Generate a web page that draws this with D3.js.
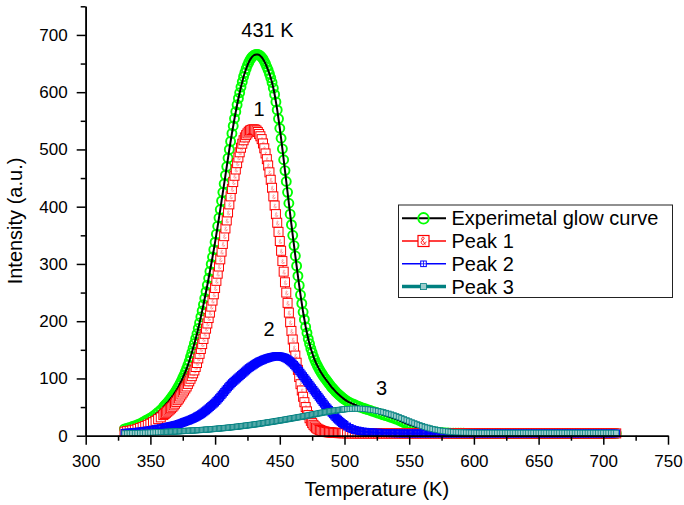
<!DOCTYPE html>
<html>
<head>
<meta charset="utf-8">
<script src="https://cdn.jsdelivr.net/npm/d3@7"></script>
<style>
  body { margin: 0; background: #fff; }
  svg { display: block; }
  text { font-family: "Liberation Sans", Arial, Helvetica, sans-serif; fill: #000; }
</style>
</head>
<body>
<svg id="chart" width="684" height="505"></svg>
<script>
// Thermoluminescence glow curve and its deconvolved peaks (temperature in K, intensity in a.u.)
// Readings are taken every 1 K across the main peak and every 2 K on the tails.
const temperature = [
  330, 332, 334, 336, 338, 340, 342, 344, 346, 348,
  350, 352, 354, 356, 358,
  360, 361, 362, 363, 364, 365, 366, 367, 368, 369,
  370, 371, 372, 373, 374, 375, 376, 377, 378, 379,
  380, 381, 382, 383, 384, 385, 386, 387, 388, 389,
  390, 391, 392, 393, 394, 395, 396, 397, 398, 399,
  400, 401, 402, 403, 404, 405, 406, 407, 408, 409,
  410, 411, 412, 413, 414, 415, 416, 417, 418, 419,
  420, 421, 422, 423, 424, 425, 426, 427, 428, 429,
  430, 431, 432, 433, 434, 435, 436, 437, 438, 439,
  440, 441, 442, 443, 444, 445, 446, 447, 448, 449,
  450, 451, 452, 453, 454, 455, 456, 457, 458, 459,
  460, 461, 462, 463, 464, 465, 466, 467, 468, 469,
  470, 471, 472, 473, 474, 475, 476, 477, 478, 479,
  480, 481, 482, 483, 484, 485, 486, 487, 488, 489,
  490, 491, 492, 493, 494, 495, 496, 497, 498, 499,
  500,
  502, 504, 506, 508, 510, 512, 514, 516, 518, 520,
  522, 524, 526, 528, 530, 532, 534, 536, 538, 540,
  542, 544, 546, 548, 550, 552, 554, 556, 558, 560,
  562, 564, 566, 568, 570, 572, 574, 576, 578, 580,
  582, 584, 586, 588, 590, 592, 594, 596, 598, 600,
  602, 604, 606, 608, 610, 612, 614, 616, 618, 620,
  622, 624, 626, 628, 630, 632, 634, 636, 638, 640,
  642, 644, 646, 648, 650, 652, 654, 656, 658, 660,
  662, 664, 666, 668, 670, 672, 674, 676, 678, 680,
  682, 684, 686, 688, 690, 692, 694, 696, 698, 700,
  702, 704, 706, 708, 710
];

const experimental = [
  12, 13, 14.5, 16, 17.5, 19, 21, 23.5, 26, 28.5,
  31, 34, 37.5, 41, 45,
  50, 52.5, 55, 57.5, 60, 63, 66, 69, 72, 75.5,
  79, 83, 87, 91.5, 96, 101, 106, 111.5, 117, 123.5,
  130, 137.5, 145, 153, 161, 169.5, 178, 187.5, 197, 207.5,
  218, 229, 240, 251.5, 263, 275, 287, 299.5, 312, 325,
  338, 352, 366, 380.5, 395, 410, 425, 440, 455, 470,
  485, 500, 514, 528, 541, 554, 566, 578, 589, 599,
  609, 618, 627, 634, 641, 647, 652, 656.5, 660, 662.5,
  664.5, 665.5, 666, 665.8, 665, 663.3, 661, 658, 654, 649.5,
  644, 638.5, 632, 625, 617, 607, 596, 583, 569, 553.5,
  537, 519.5, 501, 482, 463, 444, 425, 406, 387, 368.5,
  350, 332, 314, 296.5, 279, 262.5, 246, 231, 216, 203,
  190, 179.5, 169, 160.5, 152, 145, 138, 132.5, 127, 122.5,
  118, 114, 110, 106.5, 103, 100, 97, 94, 91, 88,
  85, 82.5, 80, 77.5, 75, 73, 71, 69, 67, 65.2,
  63.5,
  60.5, 58, 56, 54, 52, 50, 48.5, 47, 45.5, 44,
  42.5, 41, 39.5, 38, 36.5, 35, 33.5, 32, 30.5, 29,
  27, 25, 23, 21, 19.5, 18, 16.5, 15, 13.5, 12,
  10.5, 9.3, 8.3, 7.4, 6.7, 6.1, 5.6, 5.2, 4.9, 4.7,
  4.5, 4.5, 4.4, 4.4, 4.3, 4.2, 4.1, 4, 4, 4,
  4, 4, 4, 4, 4, 4, 4, 4, 4, 4,
  4, 4, 4, 4, 4, 4, 4, 4, 4, 4,
  4, 4, 4, 4, 4, 4, 4, 4, 4, 4,
  4, 4, 4, 4, 4, 4, 4, 4, 4, 4,
  4, 4, 4, 4, 4, 4, 4, 4, 4, 4,
  4, 4, 4, 4, 4
];

const peak1 = [
  7, 8, 8.5, 9.5, 10.5, 12, 13.5, 15, 17, 19,
  21, 23.5, 26, 29, 32,
  36, 38, 40, 42, 44, 46, 48, 50.5, 53, 56,
  59, 62, 65, 68.5, 72, 75.5, 79, 82.5, 86, 90.5,
  95, 99.5, 104, 109, 114, 120, 127, 135, 143, 151.5,
  160, 169, 178, 187, 196, 205.5, 215, 225.5, 236, 247,
  258, 270.5, 283, 295.5, 308, 321.5, 335, 348.5, 362, 376,
  390, 404, 418, 431, 443, 454, 465, 476, 486, 495,
  503, 510, 516, 521, 525, 528, 531, 533, 534, 535,
  535, 534.5, 533, 530.5, 527, 523, 518, 510.5, 502, 493,
  483, 472, 460, 447, 433, 418, 402, 387, 372, 356,
  340, 323, 305, 286.5, 268, 250, 232, 215, 198, 183,
  168, 154, 140, 127.5, 115, 102.5, 90, 79, 68, 58.5,
  50, 42.5, 36, 30.5, 26, 22, 19, 16.3, 14, 12.3,
  11, 10, 9, 8.2, 7.5, 7, 6.5, 6.2, 6, 5.7,
  5.5, 5.2, 5, 5, 5, 4.7, 4.5, 4.5, 4.5, 4.4,
  4.3,
  4.2, 4.1, 4, 4, 4, 4, 4, 4, 4, 4,
  4, 4, 4, 4, 4, 4, 4, 4, 4, 4,
  4, 4, 4, 4, 4, 4, 4, 4, 4, 4,
  4, 4, 4, 4, 4, 4, 4, 4, 4, 4,
  4, 4, 4, 4, 4, 4, 4, 4, 4, 4,
  4, 4, 4, 4, 4, 4, 4, 4, 4, 4,
  4, 4, 4, 4, 4, 4, 4, 4, 4, 4,
  4, 4, 4, 4, 4, 4, 4, 4, 4, 4,
  4, 4, 4, 4, 4, 4, 4, 4, 4, 4,
  4, 4, 4, 4, 4, 4, 4, 4, 4, 4,
  4, 4, 4, 4, 4
];

const peak2 = [
  5, 5.3, 5.7, 6.1, 6.5, 7, 7.5, 8.1, 8.7, 9.3,
  10, 10.8, 11.6, 12.4, 13.2,
  14, 14.5, 15, 15.5, 16, 16.5, 17, 17.5, 18, 18.5,
  19, 19.7, 20.5, 21.2, 22, 22.9, 23.8, 24.6, 25.5, 26.2,
  27, 28, 29, 30, 31, 32.2, 33.5, 34.7, 36, 37.5,
  39, 40.7, 42.5, 44.2, 46, 48, 50, 52, 54, 56,
  58, 60.5, 63, 65.5, 68, 70.8, 73.5, 76.3, 79, 81.8,
  84.5, 87, 89.5, 91.8, 94, 96, 98, 100, 102, 104,
  106, 108, 110, 112, 114, 116, 118, 119.5, 121, 122.5,
  124, 125.5, 127, 128.3, 129.5, 130.5, 131.5, 132.5, 133.5, 134.3,
  135, 135.8, 136.5, 137, 137.5, 138, 138.5, 138.8, 139, 138.8,
  138.5, 138, 137.5, 136.8, 136, 134.8, 133.5, 131.8, 130, 128,
  126, 123.5, 121, 118.5, 116, 113, 110, 107, 104, 101,
  98, 95, 92, 89, 86, 83, 80, 77, 74, 71,
  68, 65, 62, 59, 56, 53, 50, 47.5, 45, 42.5,
  40, 37.5, 35, 32.5, 30, 28, 26, 24, 22, 20.5,
  19,
  16, 13.5, 11.5, 10, 9, 8, 7.3, 6.8, 6.4, 6,
  5.7, 5.4, 5.2, 5, 4.8, 4.6, 4.5, 4.4, 4.3, 4.2,
  4.1, 4, 4, 4, 4, 4, 4, 4, 4, 4,
  4, 4, 4, 4, 4, 4, 4, 4, 4, 4,
  4, 4, 4, 4, 4, 4, 4, 4, 4, 4,
  4, 4, 4, 4, 4, 4, 4, 4, 4, 4,
  4, 4, 4, 4, 4, 4, 4, 4, 4, 4,
  4, 4, 4, 4, 4, 4, 4, 4, 4, 4,
  4, 4, 4, 4, 4, 4, 4, 4, 4, 4,
  4, 4, 4, 4, 4, 4, 4, 4, 4, 4,
  4, 4, 4, 4, 4
];

const peak3 = [
  4, 4.1, 4.3, 4.4, 4.6, 4.7, 4.9, 5, 5.2, 5.3,
  5.5, 5.7, 5.9, 6.1, 6.3,
  6.5, 6.6, 6.7, 6.8, 6.9, 7, 7.1, 7.2, 7.3, 7.4,
  7.5, 7.6, 7.7, 7.85, 8, 8.1, 8.2, 8.35, 8.5, 8.6,
  8.7, 8.85, 9, 9.15, 9.3, 9.45, 9.6, 9.7, 9.8, 9.95,
  10.1, 10.25, 10.4, 10.6, 10.8, 10.95, 11.1, 11.3, 11.5, 11.7,
  11.9, 12.1, 12.3, 12.5, 12.7, 12.9, 13.1, 13.35, 13.6, 13.8,
  14, 14.25, 14.5, 14.75, 15, 15.25, 15.5, 15.75, 16, 16.3,
  16.6, 16.85, 17.1, 17.4, 17.7, 18, 18.3, 18.6, 18.9, 19.2,
  19.5, 19.8, 20.1, 20.45, 20.8, 21.15, 21.5, 21.85, 22.2, 22.55,
  22.9, 23.25, 23.6, 23.95, 24.3, 24.65, 25, 25.4, 25.8, 26.15,
  26.5, 26.9, 27.3, 27.7, 28.1, 28.5, 28.9, 29.3, 29.7, 30.1,
  30.5, 30.9, 31.3, 31.7, 32.1, 32.5, 32.9, 33.3, 33.7, 34.1,
  34.5, 34.95, 35.4, 35.85, 36.3, 36.75, 37.2, 37.65, 38.1, 38.55,
  39, 39.45, 39.9, 40.3, 40.7, 41.1, 41.5, 41.9, 42.3, 42.65,
  43, 43.35, 43.7, 44.05, 44.4, 44.7, 45, 45.3, 45.6, 45.85,
  46.1,
  46.5, 46.8, 47.1, 47.3, 47.3, 47.2, 47, 46.6, 46.1, 45.5,
  44.8, 44, 43.1, 42.1, 41, 39.8, 38.5, 37.1, 35.6, 34,
  32.3, 30.5, 28.7, 26.9, 25.1, 23.3, 21.6, 19.9, 18.3, 16.8,
  15.4, 14.1, 12.9, 11.8, 10.8, 9.9, 9.1, 8.4, 7.8, 7.3,
  6.9, 6.5, 6.2, 6, 5.8, 5.6, 5.5, 5.4, 5.3, 5.2,
  5.1, 5, 5, 5, 5, 5, 5, 5, 5, 5,
  5, 5, 5, 5, 5, 5, 5, 5, 5, 5,
  5, 5, 5, 5, 5, 5, 5, 5, 5, 5,
  5, 5, 5, 5, 5, 5, 5, 5, 5, 5,
  5, 5, 5, 5, 5, 5, 5, 5, 5, 5,
  5, 5, 5, 5, 5
];

const xTicks = [300, 350, 400, 450, 500, 550, 600, 650, 700, 750];
const xMinorTicks = [325, 375, 425, 475, 525, 575, 625, 675, 725];
const yTicks = [0, 100, 200, 300, 400, 500, 600, 700];
const yMinorTicks = [50, 150, 250, 350, 450, 550, 650, 750];

const legendNames = ["Experimetal glow curve", "Peak 1", "Peak 2", "Peak 3"];

// Peak annotations placed in data coordinates (temperature, intensity)
const annotations = [
  { text: "431 K", t: 440.5, v: 697 },
  { text: "1", t: 434, v: 558 },
  { text: "2", t: 441.7, v: 175 },
  { text: "3", t: 528.7, v: 71 }
];

const colors = {
  exp: "#00ff00",
  expLine: "#000000",
  p1: "#ff0000",
  p2: "#0000ff",
  p3: "#008080",
  p3Fill: "#9ccccc"
};

const svg = d3.select("#chart");
const x = d3.scaleLinear().domain([300, 750]).range([85.7, 668]);
const y = d3.scaleLinear().domain([0, 750]).range([435.7, 6.3]);

const n = Math.min(temperature.length, experimental.length, peak1.length, peak2.length, peak3.length);
const rows = (vals) => temperature.slice(0, n).map((t, i) => ({ t, v: vals[i] }));
const line = d3.line().x(d => x(d.t)).y(d => y(d.v)).curve(d3.curveMonotoneX);

const plot = svg.append("g");

// Small ampersand-like glyph that sits inside the Peak 1 squares
const ampPath = "M1.3,2.3 L-0.9,-0.7 C-1.7,-1.9 -0.7,-3 0.2,-2.4 C0.9,-1.8 0.1,-1 -0.9,-0.3 C-2.1,0.5 -1.5,2.5 0,2.2 C0.8,2.1 1.4,1.2 1.8,0.4";

// Experimental glow curve: green open circles and black line
const expData = rows(experimental);
plot.append("g").selectAll("circle").data(expData).join("circle")
  .attr("cx", d => x(d.t)).attr("cy", d => y(d.v)).attr("r", 4.5)
  .attr("fill", "none").attr("stroke", colors.exp).attr("stroke-width", 1.9);
plot.append("path").datum(expData).attr("d", line)
  .attr("fill", "none").attr("stroke", colors.expLine).attr("stroke-width", 2);

// Peak 1: red squares
const p1Data = rows(peak1);
plot.append("path").datum(p1Data).attr("d", line)
  .attr("fill", "none").attr("stroke", colors.p1).attr("stroke-width", 1);
const p1g = plot.append("g").selectAll("g").data(p1Data).join("g")
  .attr("transform", d => `translate(${x(d.t)},${y(d.v)})`);
p1g.append("rect").attr("x", -4.5).attr("y", -4.5).attr("width", 9).attr("height", 9)
  .attr("fill", "#fff").attr("stroke", colors.p1).attr("stroke-width", 1);
p1g.append("path").attr("d", ampPath).attr("transform", "translate(0.6,0.6) scale(0.85)")
  .attr("fill", "none").attr("stroke", "#ff7070").attr("stroke-width", 0.7);

// Peak 2: blue squares with a cross
const p2Data = rows(peak2);
plot.append("path").datum(p2Data).attr("d", line)
  .attr("fill", "none").attr("stroke", colors.p2).attr("stroke-width", 1.5);
const p2g = plot.append("g").selectAll("g").data(p2Data).join("g")
  .attr("transform", d => `translate(${x(d.t)},${y(d.v)})`);
p2g.append("rect").attr("x", -3.3).attr("y", -3.3).attr("width", 6.6).attr("height", 6.6)
  .attr("fill", "none").attr("stroke", colors.p2).attr("stroke-width", 1.3);
p2g.append("path").attr("d", "M-3.3,0 H3.3 M0,-3.3 V3.3")
  .attr("stroke", colors.p2).attr("stroke-width", 1);

// Peak 3: thick teal line with light squares
const p3Data = rows(peak3);
plot.append("path").datum(p3Data).attr("d", line)
  .attr("fill", "none").attr("stroke", colors.p3).attr("stroke-width", 5);
plot.append("g").selectAll("rect").data(p3Data).join("rect")
  .attr("x", d => x(d.t) - 2.6).attr("y", d => y(d.v) - 2.6)
  .attr("width", 5.2).attr("height", 5.2)
  .attr("fill", colors.p3Fill).attr("stroke", colors.p3).attr("stroke-width", 0.8);

// Axes
const axisStyle = g => {
  g.select(".domain").attr("stroke", "#000").attr("stroke-width", 1.6);
  g.selectAll(".tick line").attr("stroke", "#000").attr("stroke-width", 1.5);
  g.selectAll(".tick text").attr("font-size", 17).attr("fill", "#000")
    .attr("font-family", "'Liberation Sans', Arial, Helvetica, sans-serif");
};

svg.append("g").attr("transform", `translate(0,${y(0)})`)
  .call(d3.axisBottom(x).tickValues(xMinorTicks).tickSize(5).tickSizeOuter(0).tickFormat(""))
  .call(axisStyle);
svg.append("g").attr("transform", `translate(0,${y(0)})`)
  .call(d3.axisBottom(x).tickValues(xTicks).tickSize(9).tickSizeOuter(0).tickPadding(10).tickFormat(d3.format("d")))
  .call(axisStyle);

svg.append("g").attr("transform", `translate(${x(300)},0)`)
  .call(d3.axisLeft(y).tickValues(yMinorTicks).tickSize(5).tickSizeOuter(0).tickFormat(""))
  .call(axisStyle);
svg.append("g").attr("transform", `translate(${x(300)},0)`)
  .call(d3.axisLeft(y).tickValues(yTicks).tickSize(9).tickSizeOuter(0).tickPadding(9).tickFormat(d3.format("d")))
  .call(axisStyle);

// Axis titles
svg.append("text").attr("x", (x(300) + x(750)) / 2).attr("y", 496)
  .attr("text-anchor", "middle").attr("font-size", 20).text("Temperature (K)");
svg.append("text").attr("transform", `translate(22,${(y(0) + y(750)) / 2}) rotate(-90)`)
  .attr("text-anchor", "middle").attr("font-size", 20).text("Intensity (a.u.)");

// Peak annotations
svg.append("g").selectAll("text").data(annotations).join("text")
  .attr("x", d => x(d.t)).attr("y", d => y(d.v))
  .attr("text-anchor", "middle").attr("font-size", 20).text(d => d.text);

// Legend
const legend = svg.append("g").attr("transform", "translate(398.5,205)");
legend.append("rect").attr("width", 274).attr("height", 92.5)
  .attr("fill", "#fff").attr("stroke", "#222").attr("stroke-width", 1);
const rowY = [13.3, 36, 58.8, 81.6];
const sx0 = 3.5, sx1 = 47.5, sxm = 25;

legendNames.forEach((name, i) => {
  const g = legend.append("g").attr("transform", `translate(0,${rowY[i]})`);
  if (i === 0) {
    g.append("line").attr("x1", sx0).attr("x2", sx1).attr("stroke", colors.expLine).attr("stroke-width", 2);
    g.append("circle").attr("cx", sxm).attr("r", 5.3).attr("fill", "none")
      .attr("stroke", colors.exp).attr("stroke-width", 1.8);
  } else if (i === 1) {
    g.append("line").attr("x1", sx0).attr("x2", sx1).attr("stroke", colors.p1).attr("stroke-width", 1.5);
    g.append("rect").attr("x", sxm - 5.5).attr("y", -5.5).attr("width", 11).attr("height", 11)
      .attr("fill", "#fff").attr("stroke", colors.p1).attr("stroke-width", 1.2);
    g.append("path").attr("d", ampPath).attr("transform", `translate(${sxm},0) scale(1.5)`)
      .attr("fill", "none").attr("stroke", colors.p1).attr("stroke-width", 0.6);
  } else if (i === 2) {
    g.append("line").attr("x1", sx0).attr("x2", sx1).attr("stroke", colors.p2).attr("stroke-width", 1.5);
    g.append("rect").attr("x", sxm - 2.8).attr("y", -2.8).attr("width", 5.6).attr("height", 5.6)
      .attr("fill", "#fff").attr("stroke", colors.p2).attr("stroke-width", 1);
    g.append("path").attr("d", `M${sxm - 2.8},0 H${sxm + 2.8} M${sxm},-2.8 V2.8`)
      .attr("stroke", colors.p2).attr("stroke-width", 0.8);
  } else {
    g.append("line").attr("x1", sx0).attr("x2", sx1).attr("stroke", colors.p3).attr("stroke-width", 3.5);
    g.append("rect").attr("x", sxm - 3).attr("y", -3).attr("width", 6).attr("height", 6)
      .attr("fill", colors.p3Fill).attr("stroke", colors.p3).attr("stroke-width", 0.8);
  }
  g.append("text").attr("x", 53).attr("y", 7).attr("font-size", 20).text(name);
});
</script>
</body>
</html>
